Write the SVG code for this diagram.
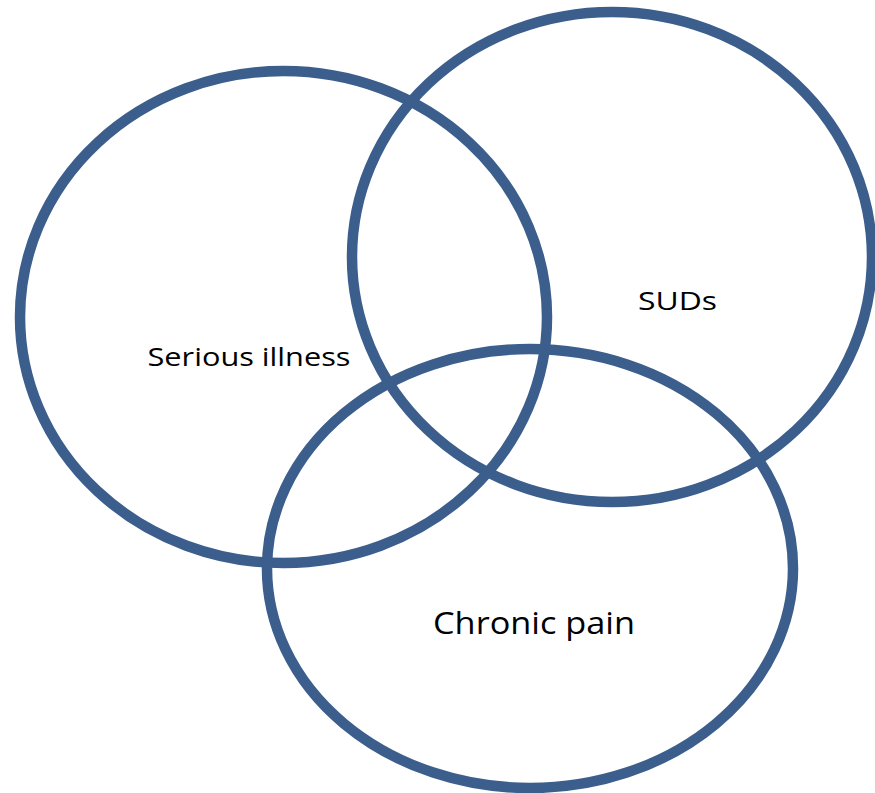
<svg xmlns="http://www.w3.org/2000/svg" width="875" height="793" viewBox="0 0 875 793">
<style>
.c{fill:none;stroke:#3B5E8C;stroke-width:10.5}
.t{font-family:"Open Sans","Liberation Sans",sans-serif;fill:#000}
</style>
<rect width="875" height="793" fill="#fff"/>
<g id="serious-illness">
<ellipse class="c" cx="283.5" cy="317" rx="263.5" ry="246"/>
<text class="t" x="249" y="366" font-size="25" text-anchor="middle" textLength="203" lengthAdjust="spacingAndGlyphs">Serious illness</text>
</g>
<g id="suds">
<ellipse class="c" cx="612" cy="257" rx="260" ry="245"/>
<text class="t" x="677.5" y="310" font-size="25" text-anchor="middle" textLength="79" lengthAdjust="spacingAndGlyphs">SUDs</text>
</g>
<g id="chronic-pain">
<ellipse class="c" cx="530" cy="568.5" rx="263" ry="219.5"/>
<text class="t" x="534" y="634" font-size="31" text-anchor="middle" textLength="202" lengthAdjust="spacingAndGlyphs">Chronic pain</text>
</g>
<g id="connectors"/>
</svg>
